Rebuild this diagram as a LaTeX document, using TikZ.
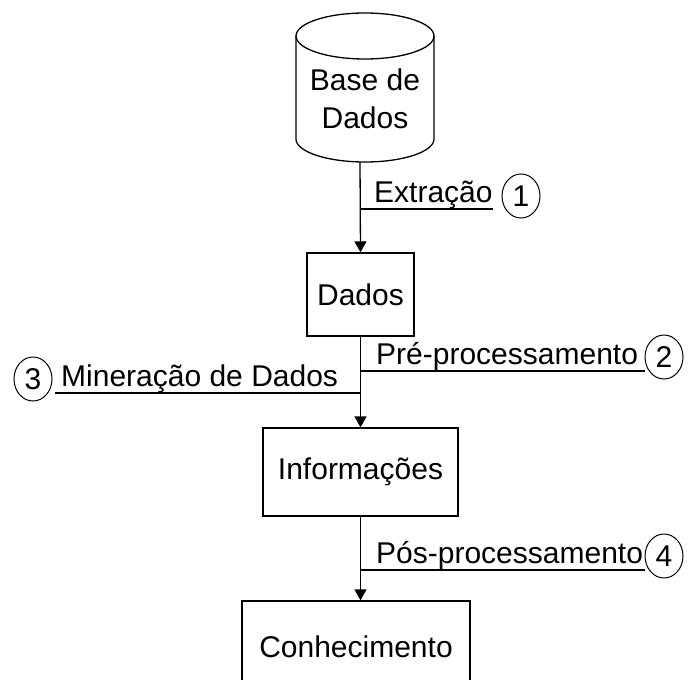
\documentclass[tikz,border=0pt]{standalone}
\usepackage{fontspec}
\setmainfont{Liberation Sans}
\usetikzlibrary{shapes.geometric,arrows.meta}

\begin{document}
\begin{tikzpicture}[
    x=1pt, y=-1pt,
    base/.style = {rectangle, draw=black, line width=1.3pt,
font=\fontsize{30}{38}\selectfont},
    process/.style = {base, inner sep=0pt},
    num/.style = {ellipse, draw=black, line width=1pt, minimum width=38pt,
minimum height=44pt, inner sep=0pt, font=\fontsize{30}{30}\selectfont},
    lbl/.style = {anchor=base west, inner sep=0pt, font=\fontsize{30}{30}\selectfont},
    link/.style = {line width=1.3pt},
    flow/.style = {link, -{Triangle[length=11pt,width=12pt]}}
]
  \useasboundingbox (0,0) rectangle (692,679);

  % cilindro da base de dados
  \draw[link] (296,36) -- (296,139) arc[start angle=180, end angle=0, x radius=69, y radius=23] -- (434,36);
  \draw[link] (365,36) ellipse [x radius=69, y radius=23];
  \coordinate (bdbot) at (360,162);

  \node (bd)    [align=center, font=\fontsize{30}{38}\selectfont] at (365,99) {Base de\\Dados};
  \node (dados) [process, minimum width=107pt, minimum height=83pt] at (360.5,294.5) {Dados};
  \node (info)  [process, minimum width=195pt, minimum height=88pt] at (360.5,472) {Informações};
  \node (conh)  [process, minimum width=228pt, minimum height=92pt] at (356,647) {Conhecimento};

  % rotulos das etapas
  \coordinate (t1) at (360,209); \coordinate (e1) at (493,209);
  \coordinate (t2) at (360,371); \coordinate (e2) at (645,371);
  \coordinate (t3) at (360,393); \coordinate (e3) at (55,393);
  \coordinate (t4) at (360,570); \coordinate (e4) at (645,570);

  \node (extr) [lbl] at (374,202) {Extração};
  \node (pre)  [lbl] at (376,364) {Pré-processamento};
  \node (min)  [lbl] at (61,386)  {Mineração de Dados};
  \node (pos)  [lbl] at (376,563) {Pós-processamento};

  \node (n1) [num] at (521,196) {1};
  \node (n2) [num] at (664,357) {2};
  \node (n3) [num] at (33,379)  {3};
  \node (n4) [num] at (664,556) {4};

  \draw[flow] (bdbot) -- (dados.north);
  \draw[flow] (dados.south) -- (dados.south |- info.north);
  \draw[flow] (info.south) -- (info.south |- conh.north);

  \draw[link] (t1) -- (e1);
  \draw[link] (t2) -- (e2);
  \draw[link] (t3) -- (e3);
  \draw[link] (t4) -- (e4);

\end{tikzpicture}
\end{document}
